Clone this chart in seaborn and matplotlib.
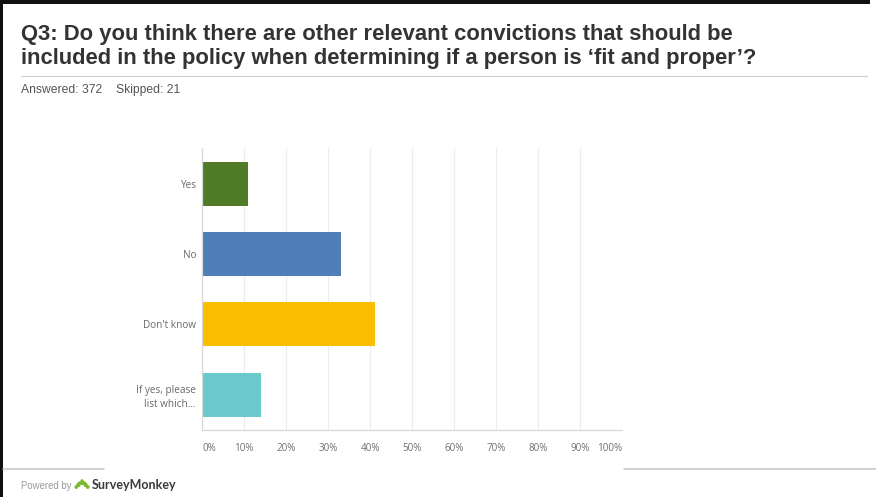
import matplotlib
matplotlib.use("Agg")
import matplotlib.pyplot as plt
import seaborn as sns
import pandas as pd
from matplotlib.patches import Rectangle, Wedge, Circle
from matplotlib.lines import Line2D

# Survey responses (percent of respondents)
categories = ["Yes", "No", "Don't know", "If yes, please\nlist which..."]
shares = [11.0, 33.1, 41.1, 14.0]
bar_colors = ["#507c28", "#4f7eb9", "#f9be00", "#6ac9ca"]
x_ticks = [0, 10, 20, 30, 40, 50, 60, 70, 80, 90, 100]
x_tick_labels = [f"{t}%" for t in x_ticks]

title_lines = [
    "Q3: Do you think there are other relevant convictions that should be",
    "included in the policy when determining if a person is \u2018fit and proper\u2019?",
]
answered_text = "Answered: 372"
skipped_text = "Skipped: 21"

W, H = 876, 497


def fx(px):
    return px / W


def fy(py):
    return 1 - py / H


sns.set_theme(style="white")
plt.rcParams["font.family"] = ["Liberation Sans", "DejaVu Sans"]

fig = plt.figure(figsize=(W / 100, H / 100), dpi=100)
fig.patch.set_facecolor("white")

# ---- bar chart ----
left, right, top, bottom = 202.3, 622.0, 148.3, 430.0
ax = fig.add_axes([fx(left), fy(bottom), (right - left) / W, (bottom - top) / H])
df = pd.DataFrame({"answer": categories, "share": shares})
sns.barplot(data=df, x="share", y="answer", hue="answer", palette=bar_colors,
            width=0.625, saturation=1, legend=False, ax=ax, linewidth=0)
ax.set_xlim(0, 100)
ax.set_ylim(3.5, -0.5)
ax.set_xticks(x_ticks)
ax.set_xticklabels(x_tick_labels)
ax.set_xlabel("")
ax.set_ylabel("")
ax.xaxis.grid(True, color="#ececec", linewidth=0.8)
ax.yaxis.grid(False)
ax.set_axisbelow(True)
for side in ("top", "right"):
    ax.spines[side].set_visible(False)
for side in ("left", "bottom"):
    ax.spines[side].set_visible(True)
    ax.spines[side].set_color("#d8d8d8")
    ax.spines[side].set_linewidth(0.9)
ax.tick_params(axis="x", length=0, pad=9.5, labelsize=7.1, labelcolor="#707070")
ax.tick_params(axis="y", length=0, pad=4.5, labelsize=7.2, labelcolor="#6a6a6a")
for lbl in ax.get_xticklabels() + ax.get_yticklabels():
    lbl.set_fontfamily(["Open Sans", "DejaVu Sans"])
xl = ax.get_xticklabels()
xl[0].set_ha("left")
xl[-1].set_ha("right")
for lbl in ax.get_yticklabels():
    lbl.set_multialignment("right")
    lbl.set_linespacing(1.3)

# ---- page frame and rules ----
fig.add_artist(Rectangle((0, 0), fx(3), 1, transform=fig.transFigure,
                         facecolor="#111111", edgecolor="none"))
fig.add_artist(Rectangle((0, fy(3.5)), fx(870), 3.5 / H, transform=fig.transFigure,
                         facecolor="#111111", edgecolor="none"))
fig.add_artist(Line2D([fx(21), fx(867)], [fy(76), fy(76)], transform=fig.transFigure,
                      color="#cfcfcf", linewidth=0.8))
fig.add_artist(Line2D([fx(3), fx(104)], [fy(469), fy(469)], transform=fig.transFigure,
                      color="#c4c4c4", linewidth=1.1))
fig.add_artist(Line2D([fx(624), fx(876)], [fy(469), fy(469)], transform=fig.transFigure,
                      color="#c4c4c4", linewidth=1.1))

# ---- title block ----
for line, base in zip(title_lines, (40, 64)):
    fig.text(fx(21), fy(base), line, ha="left", va="baseline", fontsize=15.8,
             fontweight="bold", color="#333333")
fig.text(fx(21), fy(93), answered_text, ha="left", va="baseline", fontsize=8.7, color="#555555")
fig.text(fx(116), fy(93), skipped_text, ha="left", va="baseline", fontsize=8.7, color="#555555")

# ---- footer ----
fig.text(fx(21), fy(489), "Powered by", ha="left", va="baseline", fontsize=6.9, color="#9a9a9a")
logo = fig.add_axes([fx(74), fy(489), 16 / W, 12 / H])
logo.set_xlim(0, 16)
logo.set_ylim(0, 12)
logo.axis("off")
green = "#7db92f"
logo.add_patch(Wedge((8.0, 2.0), 6.2, 0, 180, width=4.0, facecolor=green,
                     edgecolor="none", clip_on=False))
logo.add_patch(Circle((8.0, 8.2), 1.6, facecolor=green, edgecolor="none", clip_on=False))
logo.add_patch(Circle((2.3, 2.0), 1.9, facecolor=green, edgecolor="none", clip_on=False))
logo.add_patch(Circle((13.7, 2.0), 1.9, facecolor=green, edgecolor="none", clip_on=False))
fig.text(fx(92), fy(489), "SurveyMonkey", ha="left", va="baseline", fontsize=9.0,
         fontweight="bold", color="#3a3a3a", family=["Lato", "DejaVu Sans"])

fig.savefig("out.png", dpi=100, facecolor="white")
